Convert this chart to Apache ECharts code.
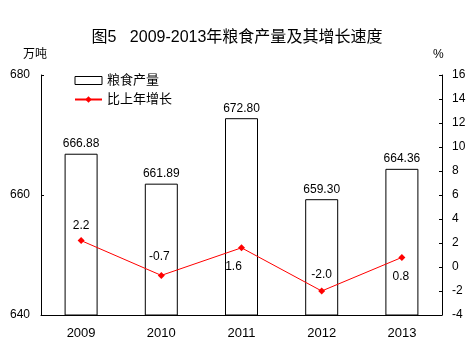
<!DOCTYPE html>
<html>
<head>
<meta charset="utf-8">
<script src="https://cdn.jsdelivr.net/npm/echarts@6/dist/echarts.min.js"></script>
<style>
  html, body { margin: 0; padding: 0; background: #fff; }
  #chart { width: 474px; height: 352px; }
</style>
</head>
<body>
<div id="chart"></div>
<script>
// 数据
var years = ["2009", "2010", "2011", "2012", "2013"];
var output = [666.88, 661.89, 672.80, 659.30, 664.36]; // 粮食产量(万吨)
var growth = [2.2, -0.7, 1.6, -2.0, 0.8]; // 比上年增长(%)
var leftTicks = { min: 640, max: 680, step: 20 };
var rightTicks = { min: -4, max: 16, step: 2 };

// 折线标签位置 (样式)
var growthLabelPos = ["top", "top", "bottom", "top", "bottom"];
var growthLabelOffset = [[0, 0], [-2, -4], [-8, 4], [0, -2], [-1, 5]];

var font = "'Liberation Sans', Arial, 'Noto Sans CJK SC', sans-serif";
var myChart = echarts.init(document.getElementById("chart"));

var option = {
  backgroundColor: "#fff",
  animation: false,
  title: {
    text: "图5   2009-2013年粮食产量及其增长速度",
    left: "center",
    top: 25,
    textStyle: { fontSize: 16, fontWeight: "normal", color: "#000", fontFamily: font }
  },
  graphic: [
    { type: "text", left: 23, top: 49, style: { text: "万吨", fontSize: 12, fill: "#000", fontFamily: font } },
    { type: "text", left: 433, top: 49, style: { text: "%", fontSize: 12, fill: "#000", fontFamily: font } }
  ],
  legend: {
    orient: "vertical",
    left: 69,
    top: 69,
    itemWidth: 27,
    itemHeight: 8,
    itemGap: 6,
    textStyle: { fontSize: 13, color: "#000", fontFamily: font },
    data: [
      { name: "粮食产量", icon: "rect", itemStyle: { color: "#fff", borderColor: "#000", borderWidth: 1 } },
      { name: "比上年增长" }
    ]
  },
  grid: { left: 41, right: 32, top: 75, bottom: 37 },
  xAxis: {
    type: "category",
    data: years,
    axisLine: { onZero: false, lineStyle: { color: "#000", width: 1 } },
    axisTick: { inside: true, length: 3, lineStyle: { color: "#000" } },
    axisLabel: { fontSize: 13, color: "#000", margin: 12, fontFamily: font }
  },
  yAxis: [
    {
      type: "value",
      min: leftTicks.min,
      max: leftTicks.max,
      interval: leftTicks.step,
      axisLine: { show: true, lineStyle: { color: "#000" } },
      axisTick: { show: true, inside: true, length: 3, lineStyle: { color: "#000" } },
      axisLabel: { fontSize: 12, color: "#000", margin: 11, fontFamily: font },
      splitLine: { show: false }
    },
    {
      type: "value",
      position: "right",
      min: rightTicks.min,
      max: rightTicks.max,
      interval: rightTicks.step,
      axisLine: { show: true, lineStyle: { color: "#000" } },
      axisTick: { show: true, inside: true, length: 3, lineStyle: { color: "#000" } },
      axisLabel: { fontSize: 12, color: "#000", margin: 10, fontFamily: font },
      splitLine: { show: false }
    }
  ],
  series: [
    {
      name: "粮食产量",
      type: "bar",
      yAxisIndex: 0,
      barWidth: 33,
      itemStyle: { color: "#fff", borderColor: "#000", borderWidth: 1 },
      label: {
        show: true,
        position: "top",
        distance: 4,
        fontSize: 12,
        color: "#000",
        fontFamily: font,
        formatter: function (p) { return p.value.toFixed(2); }
      },
      data: output
    },
    {
      name: "比上年增长",
      type: "line",
      yAxisIndex: 1,
      symbol: "diamond",
      symbolSize: 7,
      lineStyle: { color: "#ff0000", width: 1 },
      itemStyle: { color: "#ff0000" },
      label: { show: true, fontSize: 12, color: "#000", fontFamily: font, distance: 5 },
      data: growth.map(function (v, i) {
        return {
          value: v,
          label: {
            position: growthLabelPos[i],
            offset: growthLabelOffset[i],
            formatter: v.toFixed(1)
          }
        };
      })
    }
  ]
};
myChart.setOption(option, true);
</script>
</body>
</html>
